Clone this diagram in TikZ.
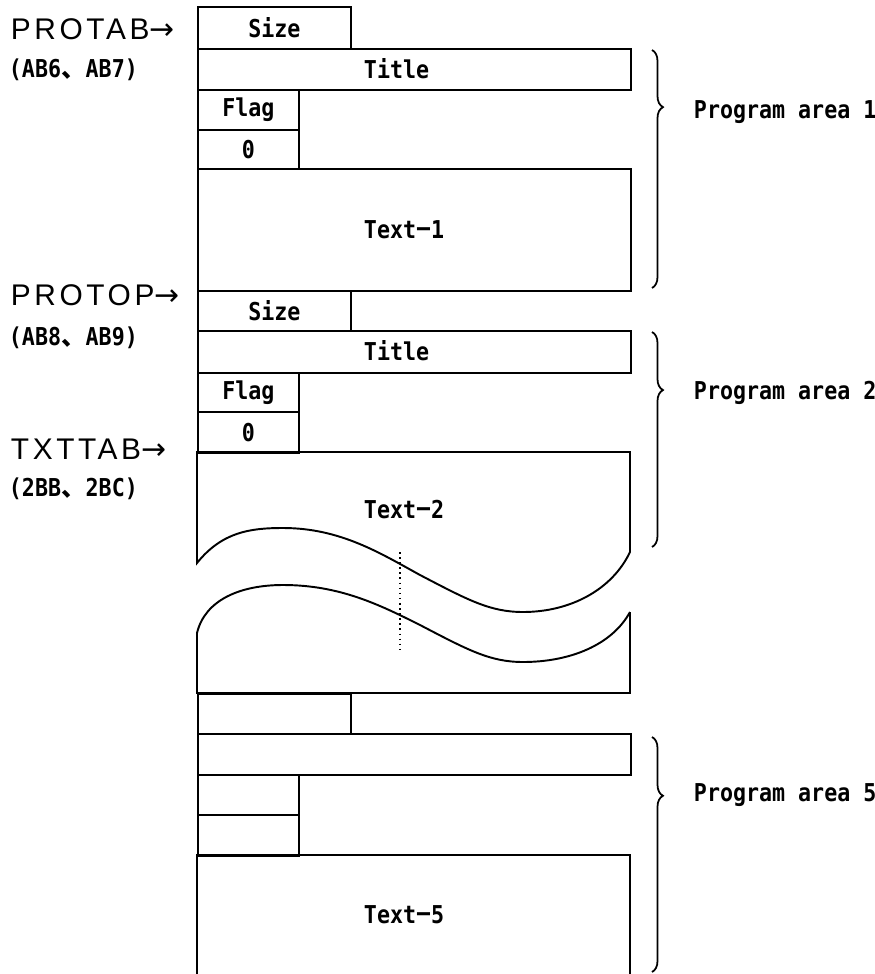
\documentclass[tikz,border=0pt]{standalone}
\usepackage{fontspec}
\setmainfont{Liberation Sans}
\newfontfamily\cellfont[FakeStretch=0.88]{DejaVu Sans Mono}
\newfontfamily\jpfont{Noto Sans CJK JP}
\newfontfamily\ptrfont[LetterSpace=12]{Liberation Sans}
\newfontfamily\arwfont{DejaVu Sans}
\usetikzlibrary{positioning, decorations.pathreplacing}
\tikzset{
  every picture/.style={line width=1.1pt},
  cell/.style={draw, anchor=north west, inner sep=0pt, font=\cellfont\bfseries\fontsize{14}{16}\selectfont},
  sizecell/.style={cell, minimum width=3.06cm},
  fullcell/.style={cell, minimum width=8.66cm},
  flagcell/.style={cell, minimum width=2.02cm},
  lbl/.style={font=\cellfont\bfseries\fontsize{14}{16}\selectfont, inner sep=0pt, anchor=west},
  ptr/.style={font=\ptrfont\fontsize{17}{20}\selectfont, inner sep=0pt, anchor=west},
  brc/.style={decorate, decoration={brace, amplitude=0.22cm, aspect=#1}, line width=1pt},
}

\begin{document}
\begin{tikzpicture}[x=0.02cm, y=-0.02cm]
  \useasboundingbox (0,0) rectangle (875,974);
  % pointers on the left
  \node[ptr] (protab) at (10,29) {PROTAB{\arwfont →}};
  \node[lbl] (ab6) at (8,70) {(AB6{\jpfont 、}AB7)};
  \node[ptr] (protop) at (10,295) {PROTOP{\arwfont →}};
  \node[lbl] (ab8) at (8,338) {(AB8{\jpfont 、}AB9)};
  \node[ptr] (txttab) at (10,449) {TXTTAB{\arwfont →}};
  \node[lbl] (bb) at (8,489) {(2BB{\jpfont 、}2BC)};

  % program area 1
  \node[sizecell, minimum height=0.84cm] (size1) at (197,6) {Size};
  \node[fullcell, minimum height=0.82cm] (title1) at (197,48) {};
  \node[flagcell, minimum height=0.8cm] (flag1) at (197,89) {Flag};
  \node[flagcell, minimum height=0.78cm] (zero1) at (197,129) {0};
  \node[fullcell, minimum height=2.44cm] (text1) at (197,168) {};
  \node[lbl] (t1) at (363,69) {Title};
  \node[lbl] (x1) at (363,230) {Text{\jpfont −}1};

  % program area 2
  \node[sizecell, minimum height=0.8cm] (size2) at (197,290) {Size};
  \node[fullcell, minimum height=0.84cm] (title2) at (197,330) {};
  \node[flagcell, minimum height=0.78cm] (flag2) at (197,372) {Flag};
  \node[flagcell, minimum height=0.82cm] (zero2) at (197,411) {0};
  \node[lbl] (t2) at (363,351) {Title};
  \node[lbl] (x2) at (363,510) {Text{\jpfont −}2};
  \draw (630,552) -- (630,452) -- (197,452) -- (197,563)
    .. controls (222,532) and (250,528) .. (283,528)
    .. controls (340,528) and (380,553) .. (420,575)
    .. controls (468,600) and (490,612) .. (523,612)
    .. controls (570,612) and (612,590) .. (630,552);

  % cut
  \draw[dotted, line width=0.9pt] (400,552) -- (400,650);
  \draw (630,612) -- (630,693) -- (197,693) -- (197,633)
    .. controls (205,600) and (240,585) .. (283,585)
    .. controls (340,585) and (380,605) .. (420,625)
    .. controls (468,650) and (490,662) .. (523,662)
    .. controls (570,662) and (612,645) .. (630,612);

  % program area 5
  \node[sizecell, minimum height=0.8cm] (size5) at (197,693) {};
  \node[fullcell, minimum height=0.82cm] (title5) at (197,733) {};
  \node[flagcell, minimum height=0.8cm] (flag5) at (197,774) {};
  \node[flagcell, minimum height=0.82cm] (zero5) at (197,814) {};
  \draw (197,974) -- (197,855) -- (630,855) -- (630,974);
  \node[lbl] (x5) at (363,915) {Text{\jpfont −}5};

  % braces
  \draw[brc=0.24] (652,50) -- (652,288);
  \node[lbl] (area1) at (693,112) {Program area 1};
  \draw[brc=0.27] (652,332) -- (652,547);
  \node[lbl] (area2) at (693,393) {Program area 2};
  \draw[brc=0.25] (652,737) -- (652,972);
  \node[lbl] (area5) at (693,795) {Program area 5};
\end{tikzpicture}
\end{document}
